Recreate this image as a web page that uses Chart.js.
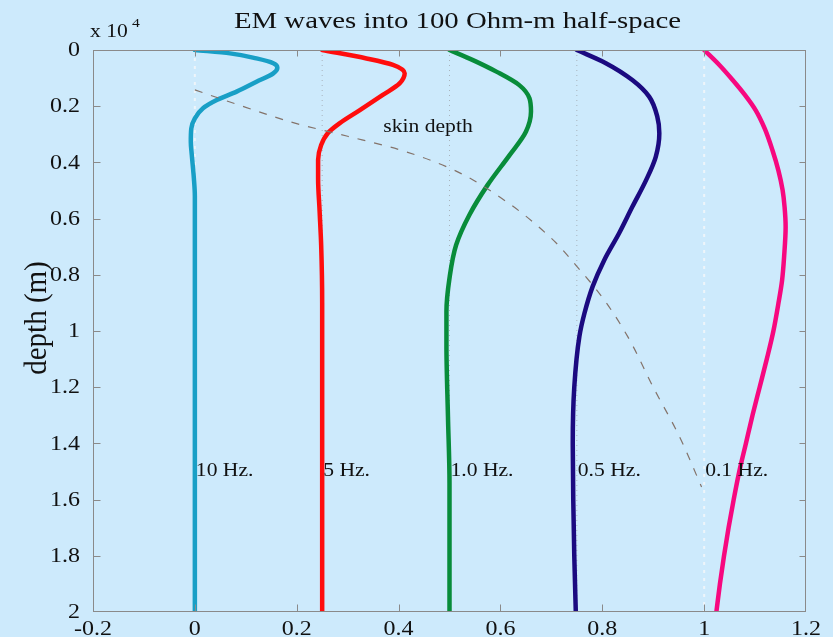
<!DOCTYPE html>
<html>
<head>
<meta charset="utf-8">
<script src="https://cdn.jsdelivr.net/npm/chart.js@4/dist/chart.umd.min.js"></script>
<style>
html,body{margin:0;padding:0;background:#cdeafc;}
canvas{display:block;}
</style>
</head>
<body>
<canvas id="c" width="833" height="637"></canvas>
<script>
// ---- data (field value offset per frequency, depth in units of 10^4 m) ----
const xTicks = [-0.2, 0, 0.2, 0.4, 0.6, 0.8, 1, 1.2];
const xTickLabels = ['-0.2', '0', '0.2', '0.4', '0.6', '0.8', '1', '1.2'];
const yTicks = [0, 0.2, 0.4, 0.6, 0.8, 1, 1.2, 1.4, 1.6, 1.8, 2];
const yTickLabels = ['0', '0.2', '0.4', '0.6', '0.8', '1', '1.2', '1.4', '1.6', '1.8', '2'];

const freqLabels = ['10 Hz.', '5 Hz.', '1.0 Hz.', '0.5 Hz.', '0.1 Hz.'];
const freqOffsets = [0, 0.25, 0.5, 0.75, 1.0];
const freqLabelDepth = 1.5;

const depth10Hz = [0, 0.012, 0.030, 0.047, 0.063, 0.083, 0.113, 0.148, 0.178, 0.207, 0.243, 0.279, 0.326, 0.374, 0.455, 0.52, 0.8, 1.2, 1.6, 2.0];
const field10Hz = [0, 0.069, 0.121, 0.154, 0.162, 0.154, 0.121, 0.082, 0.043, 0.016, 0, -0.007, -0.008, -0.006, -0.002, 0, 0, 0, 0, 0];

const depth5Hz = [0, 0.030, 0.053, 0.083, 0.119, 0.160, 0.214, 0.261, 0.296, 0.338, 0.391, 0.457, 0.575, 0.694, 0.9, 1.4, 2.0];
const field5Hz = [0.25, 0.337, 0.389, 0.412, 0.402, 0.369, 0.324, 0.284, 0.261, 0.248, 0.242, 0.242, 0.245, 0.248, 0.25, 0.25, 0.25];

const depth1Hz = [0, 0.036, 0.077, 0.125, 0.172, 0.219, 0.291, 0.374, 0.480, 0.587, 0.694, 0.812, 0.931, 1.05, 1.305, 1.54, 2.0];
const field1Hz = [0.5, 0.546, 0.592, 0.637, 0.657, 0.660, 0.650, 0.618, 0.575, 0.539, 0.513, 0.5, 0.494, 0.494, 0.497, 0.5, 0.5];

const depth05Hz = [0, 0.047, 0.107, 0.166, 0.237, 0.296, 0.380, 0.463, 0.558, 0.652, 0.747, 0.842, 0.937, 1.02, 1.20, 1.40, 1.60, 1.80, 2.0];
const field05Hz = [0.75, 0.807, 0.859, 0.892, 0.908, 0.912, 0.905, 0.886, 0.859, 0.833, 0.804, 0.781, 0.765, 0.755, 0.745, 0.742, 0.743, 0.745, 0.748];

const depth01Hz = [0, 0.05, 0.107, 0.16, 0.214, 0.28, 0.356, 0.43, 0.498, 0.56, 0.629, 0.736, 0.82, 0.9, 1.0, 1.1, 1.2, 1.3, 1.4, 1.5, 1.6, 1.7, 1.8, 1.9, 2.0];
const field01Hz = [1.0, 1.028, 1.056, 1.080, 1.101, 1.119, 1.134, 1.146, 1.154, 1.158, 1.160, 1.157, 1.153, 1.146, 1.136, 1.123, 1.109, 1.095, 1.082, 1.069, 1.058, 1.048, 1.039, 1.031, 1.024];

const skinX = [0, 0.1, 0.2, 0.3, 0.4, 0.5, 0.6, 0.7, 0.75, 0.8, 0.85, 0.9, 0.95, 0.995];
const skinDepth = [0.142, 0.204, 0.262, 0.307, 0.354, 0.42, 0.525, 0.67, 0.77, 0.88, 1.02, 1.20, 1.37, 1.555];

const curveColors = ['#189fc6', '#ff0d0d', '#088c3a', '#1b0a80', '#f7087f'];

// ---- build datasets ----
const pts = (xs, ys) => xs.map((v, i) => ({x: v, y: ys[i]}));
const curves = [
  pts(field10Hz, depth10Hz), pts(field5Hz, depth5Hz), pts(field1Hz, depth1Hz),
  pts(field05Hz, depth05Hz), pts(field01Hz, depth01Hz)
];
const datasets = [];
datasets.push({
  data: pts(skinX, skinDepth), borderColor: '#84736a', borderWidth: 1.2,
  borderDash: [8, 9], cubicInterpolationMode: 'monotone', order: 0
});
curves.forEach((c, i) => datasets.push({
  data: c, borderColor: curveColors[i], borderWidth: 4.5, cubicInterpolationMode: 'monotone',
  borderCapStyle: 'round', borderJoinStyle: 'round', order: 1
}));
freqOffsets.forEach((o, i) => {
  const bright = (o === 0 || o === 1.0);
  datasets.push({
    data: pts([o, o], [0, 2]),
    borderColor: bright ? '#eef5fa' : '#a9b3bc',
    borderWidth: bright ? 2 : 1,
    borderDash: bright ? [3, 5] : [1, 4],
    tension: 0, order: 2
  });
});

const FONT = "'Liberation Serif','Times New Roman',serif";
function sText(ctx, t, x, y, size, align, base, sx) {
  ctx.save();
  ctx.translate(x, y);
  ctx.scale(sx === undefined ? 1.2 : sx, 1);
  ctx.font = size + 'px ' + FONT;
  ctx.textAlign = align; ctx.textBaseline = base;
  ctx.fillText(t, 0, 0);
  ctx.restore();
}

const deco = {
  id: 'deco',
  beforeDraw(chart) {
    const ctx = chart.ctx;
    ctx.save(); ctx.fillStyle = '#cdeafc';
    ctx.fillRect(0, 0, chart.width, chart.height); ctx.restore();
  },
  afterDraw(chart) {
    const ctx = chart.ctx, a = chart.chartArea, xs = chart.scales.x, ys = chart.scales.y;
    ctx.save();
    ctx.strokeStyle = '#8a8a8a'; ctx.lineWidth = 1;
    const L = Math.round(a.left) + 0.5, R = Math.round(a.right) - 0.5;
    const T = Math.round(a.top) + 0.5, B = Math.round(a.bottom) - 0.5;
    ctx.strokeRect(L, T, R - L, B - T);
    ctx.beginPath();
    xTicks.forEach(v => {
      const p = Math.round(xs.getPixelForValue(v)) + 0.5;
      if (p <= L + 1 || p >= R - 1) return;
      ctx.moveTo(p, B); ctx.lineTo(p, B - 7);
      ctx.moveTo(p, T); ctx.lineTo(p, T + 6);
    });
    yTicks.forEach(v => {
      const p = Math.round(ys.getPixelForValue(v)) + 0.5;
      if (p <= T + 1 || p >= B - 1) return;
      ctx.moveTo(L, p); ctx.lineTo(L + 7, p);
      ctx.moveTo(R, p); ctx.lineTo(R - 6, p);
    });
    ctx.stroke();

    ctx.fillStyle = '#111111';
    xTicks.forEach((v, i) => sText(ctx, xTickLabels[i], xs.getPixelForValue(v), 630, 20, 'center', 'middle'));
    yTicks.forEach((v, i) => sText(ctx, yTickLabels[i], a.left - 13, ys.getPixelForValue(v) + 1, 20, 'right', 'middle'));

    // title
    sText(ctx, 'EM waves into 100 Ohm-m half-space', (a.left + a.right) / 2 + 8, 28, 24, 'center', 'alphabetic');
    // exponent
    sText(ctx, 'x 10', a.left - 3, 37, 18, 'left', 'alphabetic');
    sText(ctx, '4', a.left + 39, 27, 13, 'left', 'alphabetic');
    // y axis title
    ctx.save();
    ctx.translate(38, (a.top + a.bottom) / 2 - 13);
    ctx.rotate(-Math.PI / 2);
    ctx.scale(1, 1.1);
    ctx.font = '29px ' + FONT; ctx.textAlign = 'center'; ctx.textBaseline = 'middle';
    ctx.fillText('depth (m)', 0, 0);
    ctx.restore();
    // skin depth label
    sText(ctx, 'skin depth', xs.getPixelForValue(0.37), ys.getPixelForValue(0.275), 18, 'left', 'middle');
    // frequency labels
    freqLabels.forEach((t, i) => sText(ctx, t, xs.getPixelForValue(freqOffsets[i]) + 1, ys.getPixelForValue(freqLabelDepth), 18, 'left', 'middle'));
    ctx.restore();
  }
};

new Chart(document.getElementById('c'), {
  type: 'line',
  data: {datasets: datasets.map(d => Object.assign({pointRadius: 0, pointHoverRadius: 0, fill: false}, d))},
  options: {
    indexAxis: 'y',
    responsive: false, animation: false, devicePixelRatio: 1,
    layout: {padding: {top: 50, right: 27, left: 0, bottom: 0}},
    plugins: {legend: {display: false}, tooltip: {enabled: false}, title: {display: false}},
    scales: {
      x: {type: 'linear', min: -0.2, max: 1.2, ticks: {display: false, stepSize: 0.2},
          grid: {display: false}, border: {display: false},
          afterFit(s) { s.height = 25; }},
      y: {type: 'linear', reverse: true, min: 0, max: 2, ticks: {display: false, stepSize: 0.2},
          grid: {display: false}, border: {display: false},
          afterFit(s) { s.width = 93; }}
    }
  },
  plugins: [deco]
});
</script>
</body>
</html>
